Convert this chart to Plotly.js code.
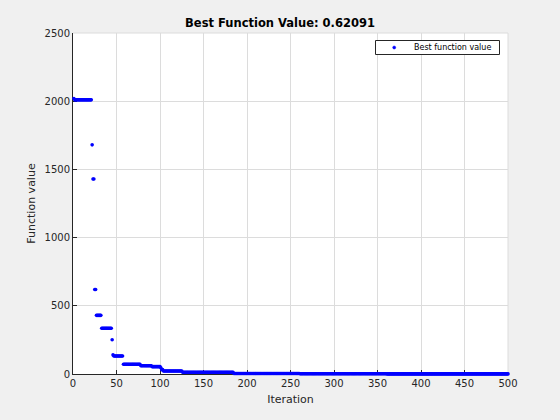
<!DOCTYPE html>
<html>
<head>
<meta charset="utf-8">
<script src="https://cdn.plot.ly/plotly-3.0.1.min.js"></script>
<style>
html,body{margin:0;padding:0;background:#f0f0f0;}
#chart{width:560px;height:420px;}
</style>
</head>
<body>
<div id="chart"></div>
<script>
// Best function value per iteration
const bestValue = [
 2020,
 2010,2010,2010,2010,2010,2010,2010,2010,2010,2010,
 2010,2010,2010,2010,2010,2010,2010,2010,2010,2010,
 1680,
 1430,1430,
 620,620,
 430,430,430,430,430,430,
 335,335,335,335,335,335,335,335,335,335,335,335,
 251,
 140,
 132,132,132,132,132,132,132,132,132,132,132,
 71,71,71,71,71,71,71,71,71,71,
 71,71,71,71,71,71,71,71,71,71,
 61,61,61,61,61,61,61,61,61,61,
 61,61,61,
 54,54,54,54,54,54,54,54,54,54,
 45,
 32,32,
 22,22,22,22,22,22,22,22,22,22,
 22,22,22,22,22,22,22,22,22,22,
 22,22,
 13,13,13,13,13,13,13,13,13,13,
 13,13,13,13,13,13,13,13,13,13,
 13,13,13,13,13,13,13,13,13,13,
 13,13,13,13,13,13,13,13,13,13,
 13,13,13,13,13,13,13,13,13,13,
 13,13,13,13,13,13,13,13,13,
 4.2,4.2,4.2,4.2,4.2,4.2,4.2,4.2,4.2,4.2,
 4.2,4.2,4.2,4.2,4.2,4.2,4.2,4.2,4.2,4.2,
 4.2,4.2,4.2,4.2,4.2,4.2,4.2,4.2,4.2,4.2,
 4.2,4.2,4.2,4.2,4.2,4.2,4.2,4.2,4.2,4.2,
 4.2,4.2,4.2,4.2,4.2,4.2,4.2,4.2,4.2,4.2,
 4.2,4.2,4.2,4.2,4.2,4.2,4.2,4.2,4.2,4.2,
 4.2,4.2,4.2,4.2,4.2,4.2,4.2,4.2,4.2,4.2,
 4.2,4.2,4.2,4.2,4.2,4.2,
 1.5,1.5,1.5,1.5,1.5,1.5,1.5,1.5,1.5,1.5,
 1.5,1.5,1.5,1.5,1.5,1.5,1.5,1.5,1.5,1.5,
 1.5,1.5,1.5,1.5,1.5,1.5,1.5,1.5,1.5,1.5,
 1.5,1.5,1.5,1.5,1.5,1.5,1.5,1.5,1.5,1.5,
 1.5,1.5,1.5,1.5,1.5,1.5,1.5,1.5,1.5,1.5,
 1.5,1.5,1.5,1.5,1.5,1.5,1.5,1.5,1.5,1.5,
 1.5,1.5,1.5,1.5,1.5,1.5,1.5,1.5,1.5,1.5,
 1.5,1.5,1.5,1.5,1.5,1.5,1.5,1.5,1.5,1.5,
 1.5,1.5,1.5,1.5,1.5,1.5,1.5,1.5,1.5,1.5,
 1.5,1.5,1.5,1.5,1.5,1.5,1.5,1.5,1.5,1.5,
 0.62091,0.62091,0.62091,0.62091,0.62091,0.62091,0.62091,0.62091,0.62091,0.62091,
 0.62091,0.62091,0.62091,0.62091,0.62091,0.62091,0.62091,0.62091,0.62091,0.62091,
 0.62091,0.62091,0.62091,0.62091,0.62091,0.62091,0.62091,0.62091,0.62091,0.62091,
 0.62091,0.62091,0.62091,0.62091,0.62091,0.62091,0.62091,0.62091,0.62091,0.62091,
 0.62091,0.62091,0.62091,0.62091,0.62091,0.62091,0.62091,0.62091,0.62091,0.62091,
 0.62091,0.62091,0.62091,0.62091,0.62091,0.62091,0.62091,0.62091,0.62091,0.62091,
 0.62091,0.62091,0.62091,0.62091,0.62091,0.62091,0.62091,0.62091,0.62091,0.62091,
 0.62091,0.62091,0.62091,0.62091,0.62091,0.62091,0.62091,0.62091,0.62091,0.62091,
 0.62091,0.62091,0.62091,0.62091,0.62091,0.62091,0.62091,0.62091,0.62091,0.62091,
 0.62091,0.62091,0.62091,0.62091,0.62091,0.62091,0.62091,0.62091,0.62091,0.62091,
 0.62091,0.62091,0.62091,0.62091,0.62091,0.62091,0.62091,0.62091,0.62091,0.62091,
 0.62091,0.62091,0.62091,0.62091,0.62091,0.62091,0.62091,0.62091,0.62091,0.62091,
 0.62091,0.62091,0.62091,0.62091,0.62091,0.62091,0.62091,0.62091,0.62091,0.62091,
 0.62091,0.62091,0.62091,0.62091,0.62091,0.62091,0.62091,0.62091,0.62091,0.62091
];
const iterations = bestValue.map((v, i) => i + 1);
const xTicks = [0,50,100,150,200,250,300,350,400,450,500];
const yTicks = [0,500,1000,1500,2000,2500];
const seriesName = 'Best function value';
const chartTitle = 'Best Function Value: 0.62091';

const FONT = 'DejaVu Sans, sans-serif';
const axisFont = {family: FONT, size: 10, color: '#262626'};
const trace = {
  x: iterations, y: bestValue, type: 'scatter', mode: 'markers',
  name: seriesName, cliponaxis: false, showlegend: false,
  marker: {color: '#0000ff', size: 3.6, symbol: 'circle', line: {width: 0}}
};

// plot area in pixels: x 73..508, y 33..374
const PX = (p) => (p - 73) / 435;
const PY = (p) => (374 - p) / 341;

const layout = {
  width: 560, height: 420,
  paper_bgcolor: '#f0f0f0', plot_bgcolor: '#ffffff',
  margin: {l: 73, r: 52, t: 33, b: 46, pad: 0},
  title: {text: '<b>' + chartTitle + '</b>', x: 0.5, xanchor: 'center', y: 1, yref: 'paper', yanchor: 'bottom', pad: {b: 6},
          font: {family: FONT, size: 11.5, color: '#000000'}},
  showlegend: false,
  xaxis: {range: [0, 500], tickvals: xTicks, ticktext: xTicks.map(String),
          ticks: 'inside', ticklen: 4, tickcolor: '#262626', tickwidth: 1,
          showline: true, linecolor: '#262626', linewidth: 1, mirror: false,
          showgrid: true, gridcolor: '#dcdcdc', gridwidth: 1, zeroline: false,
          layer: 'below traces',
          tickfont: axisFont,
          title: {text: 'Iteration', font: {family: FONT, size: 11, color: '#262626'}, standoff: 7}},
  yaxis: {range: [0, 2500], tickvals: yTicks, ticktext: yTicks.map(String),
          ticks: 'inside', ticklen: 4, tickcolor: '#262626', tickwidth: 1,
          showline: true, linecolor: '#262626', linewidth: 1, mirror: false,
          showgrid: true, gridcolor: '#dcdcdc', gridwidth: 1, zeroline: false,
          layer: 'below traces',
          tickfont: axisFont,
          title: {text: 'Function value', font: {family: FONT, size: 11, color: '#262626'}, standoff: 6}},
  shapes: [
    {type: 'line', xref: 'paper', yref: 'paper', x0: 0, x1: 1, y0: 1, y1: 1, line: {color: '#dcdcdc', width: 1}, layer: 'below'},
    {type: 'line', xref: 'paper', yref: 'paper', x0: 1, x1: 1, y0: 0, y1: 1, line: {color: '#dcdcdc', width: 1}, layer: 'below'},
    // legend box
    {type: 'rect', xref: 'paper', yref: 'paper', x0: PX(375.5), x1: PX(499.5), y0: PY(54.5), y1: PY(40.5),
     fillcolor: '#ffffff', line: {color: '#262626', width: 1}, layer: 'above'},
    // legend marker
    {type: 'circle', xref: 'paper', yref: 'paper', x0: PX(392.7), x1: PX(395.7), y0: PY(49), y1: PY(46),
     fillcolor: '#0000ff', line: {color: '#0000ff', width: 0.5}, layer: 'above'}
  ],
  annotations: [
    {text: seriesName, xref: 'paper', yref: 'paper', x: PX(412), y: PY(47.5), xanchor: 'left', yanchor: 'middle',
     showarrow: false, font: {family: FONT, size: 8, color: '#000000'}}
  ]
};
Plotly.newPlot('chart', [trace], layout, {displayModeBar: false, staticPlot: true});
</script>
</body>
</html>
